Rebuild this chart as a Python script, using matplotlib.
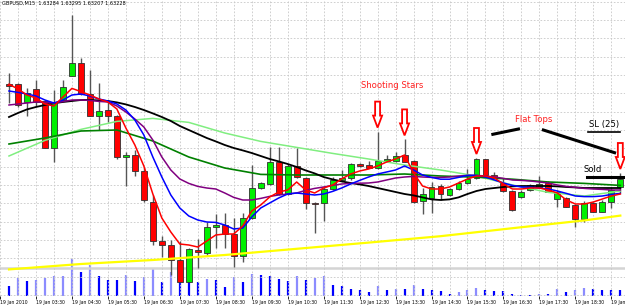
import matplotlib.pyplot as plt
from matplotlib.patches import FancyArrow
import numpy as np

# GBPUSD M15, 19 Jan 2010 - bars 1..69 (bar 0 = 02:30 is off the left edge)
bars = np.arange(1, 70)
opens = [1.63730, 1.63730, 1.63642, 1.63704, 1.63645, 1.63408, 1.63650, 1.63770, 1.63837, 1.63680,
         1.63572, 1.63600, 1.63570, 1.63363, 1.63375, 1.63297, 1.63142, 1.62947, 1.62925, 1.62850,
         1.62742, 1.62900, 1.62885, 1.63017, 1.63025, 1.62978, 1.62872, 1.63058, 1.63208, 1.63230,
         1.63342, 1.63180, 1.63320, 1.63258, 1.63137, 1.63137, 1.63205, 1.63250, 1.63258, 1.63330,
         1.63323, 1.63308, 1.63347, 1.63345, 1.63375, 1.63345, 1.63147, 1.63158, 1.63222, 1.63175,
         1.63203, 1.63233, 1.63258, 1.63353, 1.63275, 1.63237, 1.63195, 1.63163, 1.63200, 1.63217,
         1.63237, 1.63153, 1.63158, 1.63125, 1.63053, 1.63133, 1.63092, 1.63142, 1.63213]
highs = [1.63786, 1.63735, 1.63710, 1.63750, 1.63650, 1.63700, 1.63750, 1.64075, 1.63860, 1.63800,
         1.63737, 1.63650, 1.63575, 1.63392, 1.63400, 1.63317, 1.63175, 1.62970, 1.62950, 1.62945,
         1.62910, 1.62955, 1.63040, 1.63080, 1.63085, 1.63060, 1.63085, 1.63325, 1.63240, 1.63417,
         1.63415, 1.63330, 1.63408, 1.63265, 1.63140, 1.63215, 1.63267, 1.63300, 1.63335, 1.63335,
         1.63347, 1.63492, 1.63375, 1.63392, 1.63453, 1.63350, 1.63210, 1.63242, 1.63230, 1.63210,
         1.63245, 1.63303, 1.63360, 1.63355, 1.63292, 1.63258, 1.63200, 1.63200, 1.63230, 1.63270,
         1.63245, 1.63200, 1.63165, 1.63130, 1.63145, 1.63140, 1.63150, 1.63217, 1.63285]
lows = [1.63635, 1.63615, 1.63572, 1.63620, 1.63410, 1.63340, 1.63645, 1.63768, 1.63675, 1.63570,
        1.63500, 1.63542, 1.63355, 1.63220, 1.63270, 1.63140, 1.62925, 1.62865, 1.62775, 1.62740,
        1.62740, 1.62810, 1.62870, 1.62910, 1.62910, 1.62817, 1.62842, 1.63055, 1.63205, 1.63225,
        1.63175, 1.63175, 1.63260, 1.63103, 1.62987, 1.63045, 1.63200, 1.63245, 1.63250, 1.63315,
        1.63310, 1.63305, 1.63345, 1.63340, 1.63340, 1.63135, 1.63080, 1.63083, 1.63150, 1.63170,
        1.63200, 1.63230, 1.63255, 1.63270, 1.63255, 1.63190, 1.63095, 1.63160, 1.63195, 1.63215,
        1.63190, 1.63117, 1.63115, 1.63017, 1.63042, 1.63090, 1.63090, 1.63110, 1.63185]
closes = [1.63722, 1.63625, 1.63685, 1.63642, 1.63412, 1.63637, 1.63717, 1.63837, 1.63680, 1.63572,
          1.63595, 1.63572, 1.63367, 1.63375, 1.63297, 1.63150, 1.62947, 1.62925, 1.62850, 1.62742,
          1.62903, 1.62890, 1.63017, 1.63025, 1.62980, 1.62872, 1.63058, 1.63208, 1.63233, 1.63342,
          1.63180, 1.63320, 1.63263, 1.63137, 1.63132, 1.63205, 1.63250, 1.63262, 1.63330, 1.63320,
          1.63312, 1.63347, 1.63353, 1.63370, 1.63342, 1.63142, 1.63180, 1.63217, 1.63180, 1.63203,
          1.63237, 1.63253, 1.63353, 1.63275, 1.63258, 1.63195, 1.63100, 1.63192, 1.63225, 1.63228,
          1.63192, 1.63192, 1.63117, 1.63053, 1.63137, 1.63092, 1.63142, 1.63200, 1.63253]
volumes = [210, 360, 300, 320, 360, 400, 410, 740, 480, 630, 410, 330, 330, 430, 300, 380, 540, 280,
           480, 360, 340, 280, 340, 320, 180, 380, 280, 450, 430, 400, 340, 300, 400, 330, 360, 400,
           230, 200, 150, 130, 80, 210, 120, 140, 140, 230, 140, 130, 110, 50, 80, 120, 160, 120, 100,
           100, 50, 30, 30, 50, 50, 140, 80, 120, 160, 140, 130, 130, 120]

# moving averages
ma_red = [1.63729, 1.63705, 1.63675, 1.63660, 1.63630, 1.63620, 1.63665, 1.63708, 1.63692, 1.63675,
          1.63655, 1.63640, 1.63605, 1.63510, 1.63425, 1.63320, 1.63180, 1.63060, 1.62990, 1.62930,
          1.62925, 1.62915, 1.62945, 1.62975, 1.62980, 1.62980, 1.63020, 1.63095, 1.63125, 1.63165,
          1.63190, 1.63200, 1.63240, 1.63200, 1.63185, 1.63210, 1.63225, 1.63255, 1.63280, 1.63295,
          1.63305, 1.63320, 1.63340, 1.63355, 1.63375, 1.63285, 1.63220, 1.63205, 1.63205, 1.63215,
          1.63235, 1.63255, 1.63270, 1.63270, 1.63260, 1.63230, 1.63205, 1.63205, 1.63210, 1.63210,
          1.63200, 1.63185, 1.63150, 1.63130, 1.63130, 1.63140, 1.63155, 1.63170, 1.63180]
ma_blue = [1.63695, 1.63688, 1.63680, 1.63670, 1.63650, 1.63635, 1.63650, 1.63675, 1.63680, 1.63670,
           1.63655, 1.63645, 1.63630, 1.63600, 1.63550, 1.63475, 1.63365, 1.63265, 1.63175, 1.63110,
           1.63070, 1.63050, 1.63040, 1.63038, 1.63025, 1.63005, 1.63010, 1.63065, 1.63110, 1.63135,
           1.63160, 1.63180, 1.63185, 1.63180, 1.63175, 1.63180, 1.63193, 1.63210, 1.63230, 1.63248,
           1.63265, 1.63280, 1.63290, 1.63300, 1.63320, 1.63300, 1.63275, 1.63263, 1.63254, 1.63254,
           1.63263, 1.63273, 1.63273, 1.63265, 1.63250, 1.63235, 1.63223, 1.63215, 1.63214, 1.63210,
           1.63205, 1.63195, 1.63183, 1.63170, 1.63167, 1.63167, 1.63170, 1.63178, 1.63183]
ma_purple = [1.63625, 1.63630, 1.63635, 1.63640, 1.63638, 1.63635, 1.63642, 1.63650, 1.63650, 1.63648,
             1.63643, 1.63640, 1.63620, 1.63590, 1.63555, 1.63515, 1.63450, 1.63365, 1.63300, 1.63255,
             1.63233, 1.63218, 1.63210, 1.63205, 1.63185, 1.63163, 1.63150, 1.63150, 1.63158, 1.63168,
             1.63175, 1.63180, 1.63185, 1.63198, 1.63208, 1.63215, 1.63223, 1.63230, 1.63233, 1.63234,
             1.63235, 1.63240, 1.63250, 1.63260, 1.63265, 1.63268, 1.63265, 1.63263, 1.63263, 1.63265,
             1.63270, 1.63273, 1.63273, 1.63270, 1.63265, 1.63258, 1.63250, 1.63248, 1.63245, 1.63240,
             1.63235, 1.63225, 1.63218, 1.63213, 1.63208, 1.63205, 1.63203, 1.63200, 1.63200]
ma_black = [1.63565, 1.63585, 1.63603, 1.63615, 1.63625, 1.63634, 1.63640, 1.63645, 1.63650, 1.63650,
            1.63648, 1.63645, 1.63638, 1.63628, 1.63615, 1.63600, 1.63583, 1.63565, 1.63545, 1.63520,
            1.63500, 1.63480, 1.63460, 1.63443, 1.63425, 1.63410, 1.63398, 1.63385, 1.63370, 1.63355,
            1.63343, 1.63330, 1.63315, 1.63298, 1.63283, 1.63265, 1.63253, 1.63243, 1.63235, 1.63228,
            1.63220, 1.63210, 1.63200, 1.63190, 1.63180, 1.63173, 1.63163, 1.63153, 1.63150, 1.63153,
            1.63163, 1.63180, 1.63195, 1.63205, 1.63210, 1.63215, 1.63218, 1.63220, 1.63220, 1.63220,
            1.63220, 1.63218, 1.63215, 1.63213, 1.63210, 1.63210, 1.63210, 1.63210, 1.63210]
slow_bars = np.arange(1, 70, 4)
ma_dkgreen = [1.63430, 1.63460, 1.63495, 1.63500, 1.63445, 1.63365, 1.63310, 1.63278, 1.63275,
              1.63275, 1.63275, 1.63280, 1.63270, 1.63264, 1.63254, 1.63240, 1.63233, 1.63223]
ma_ltgreen = [1.63370, 1.63448, 1.63503, 1.63543, 1.63558, 1.63538, 1.63485, 1.63443, 1.63413,
              1.63383, 1.63355, 1.63325, 1.63300, 1.63270, 1.63225, 1.63188, 1.63170, 1.63195]
yellow_bars = [1, 9, 17, 25, 33, 41, 49, 57, 65, 69]
ma_yellow = [1.62803, 1.62830, 1.62850, 1.62875, 1.62906, 1.62937, 1.62969, 1.63009, 1.63048, 1.63072]

tick_bars = np.arange(0, 69, 4)
tick_labels = ['19 Jan 2010'] + ['19 Jan %02d:30' % h for h in range(3, 20)]

arrow_bars = [42, 45, 53, 69]

fig = plt.figure(figsize=(6.25, 3.07), dpi=100)
ax = fig.add_axes([0, 1 - 296 / 307, 1, 296 / 307])
axv = ax.twinx()
ax.set_zorder(axv.get_zorder() + 1)
ax.patch.set_visible(False)

# volumes at the bottom
vcol = ['#0000ff' if i == 0 or volumes[i] <= volumes[i - 1] else '#8c8cff' for i in range(len(volumes))]
axv.vlines(bars, 0, volumes, colors=vcol, linewidth=1.6)
axv.set_ylim(0, 5920)
axv.axis('off')

# candles
o = np.array(opens); c = np.array(closes)
up = c >= o
ax.vlines(bars, lows, highs, color='#555555', linewidth=1, zorder=2)
ax.bar(bars, c - o, bottom=o, width=0.66, color=np.where(up, '#00f000', '#ff0000'),
       edgecolor='#303030', linewidth=0.6, zorder=3)

# indicator lines
ax.plot(yellow_bars, ma_yellow, color='#ffff00', lw=1.6, zorder=4)
ax.plot(slow_bars, ma_ltgreen, color='#80ee80', lw=1.1, zorder=4)
ax.plot(slow_bars, ma_dkgreen, color='#008000', lw=1.2, zorder=4)
ax.plot(bars, ma_black, color='black', lw=1.3, zorder=4)
ax.plot(bars, ma_purple, color='#800080', lw=1.1, zorder=5)
ax.plot(bars, ma_blue, color='#0000ff', lw=1.1, zorder=5)
ax.plot(bars, ma_red, color='#ff0000', lw=1.1, zorder=6)

ax.axhline(1.628075, color='#d4d4d4', lw=1.8, zorder=1)

# arrows above the marked candles
hi = dict(zip(bars, highs))
for b in arrow_bars:
    tip = hi[b] + 0.0002
    ax.add_patch(FancyArrow(b, tip + 0.0013, 0, -0.0013, width=0.55, head_width=1.0,
                            head_length=0.0006, length_includes_head=True,
                            fc='white', ec='#ff0000', lw=1.3, zorder=7))

ax.text(43.6, 1.6372, 'Shooting Stars', color='#ff2020', fontsize=6.1, ha='center', va='center')
ax.text(59.4, 1.635525, 'Flat Tops', color='#ff2020', fontsize=6.1, ha='center', va='center')
ax.text(67.2, 1.63525, 'SL (25)', color='black', fontsize=6.1, ha='center', va='center')
ax.text(65.9, 1.63305, 'Sold', color='black', fontsize=6.1, ha='center', va='center')
ax.plot([54.82, 57.67], [1.634785, 1.63505], color='black', lw=2.2, zorder=8)
ax.plot([60.44, 68.36], [1.6350, 1.633865], color='black', lw=2.2, zorder=8)
ax.plot([65.3, 69.5], [1.632635, 1.632635], color='black', lw=2.2, zorder=8)
ax.plot([65.4, 68.97], [1.634915, 1.634915], color='black', lw=1.2, zorder=8)

ax.text(0.003, 0.997, 'GBPUSD,M15  1.63284 1.63295 1.63207 1.63228', transform=ax.transAxes,
        fontsize=3.6, va='top', ha='left', color='black')

ax.set_xlim(0.08, 69.52)
ax.set_ylim(1.6267, 1.6415)
ax.set_yticks(1.641415 - 0.0009167 * np.arange(17))
ax.set_xticks(tick_bars)
ax.set_xticklabels(tick_labels, fontsize=3.3, ha='left')
ax.set_xticks(np.arange(0, 70, 2), minor=True)
ax.tick_params(axis='y', left=False, labelleft=False)
ax.tick_params(axis='x', which='major', length=2, width=0.6, pad=1)
ax.tick_params(axis='x', which='minor', length=0)
ax.grid(True, which='both', color='#c8c8c8', linestyle=(0, (2, 2)), linewidth=0.6)
for s in ax.spines.values():
    s.set_visible(False)

fig.savefig('out.png', dpi=100, facecolor='white')
